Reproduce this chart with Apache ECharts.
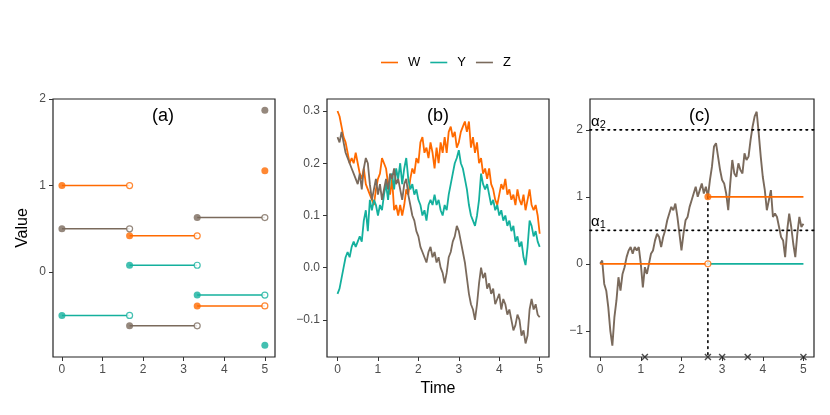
<!DOCTYPE html>
<html>
<head>
<meta charset="utf-8">
<script src="https://cdn.jsdelivr.net/npm/echarts@6/dist/echarts.min.js"></script>
<style>
  html, body { margin: 0; padding: 0; background: #fff; }
  #main { width: 830px; height: 415px; }
</style>
</head>
<body>
<div id="main"></div>
<script>
// panel (a): step values at the jump times
const stepTimes = [0, 1.667, 3.333, 5]
const aW = [1.0, 0.42, -0.39, 1.17]
const aY = [-0.5, 0.08, -0.265, -0.845]
const aZ = [0.5, -0.62, 0.63, 1.87]

// panel (b): paths sampled every 0.05 on [0, 5]
const bW = [0.30, 0.29, 0.27, 0.25, 0.24, 0.22, 0.20, 0.21, 0.20, 0.22,
  0.20, 0.18, 0.17, 0.19, 0.16, 0.15, 0.14, 0.13, 0.12, 0.15,
  0.17, 0.18, 0.21, 0.20, 0.19, 0.16, 0.14, 0.17, 0.11, 0.12,
  0.10, 0.12, 0.10, 0.12, 0.15, 0.14, 0.17, 0.19, 0.18, 0.21,
  0.20, 0.24, 0.25, 0.22, 0.23, 0.21, 0.24, 0.22, 0.19, 0.23,
  0.20, 0.24, 0.22, 0.25, 0.22, 0.26, 0.27, 0.25, 0.26, 0.23,
  0.24, 0.26, 0.27, 0.28, 0.26, 0.28, 0.23, 0.25, 0.22, 0.24,
  0.20, 0.21, 0.18, 0.19, 0.17, 0.19, 0.16, 0.15, 0.13, 0.12,
  0.14, 0.16, 0.15, 0.17, 0.14, 0.15, 0.13, 0.14, 0.12, 0.15,
  0.13, 0.12, 0.14, 0.11, 0.13, 0.15, 0.12, 0.11, 0.12, 0.10, 0.065]
const bY = [-0.05, -0.04, -0.02, 0.00, 0.02, 0.03, 0.02, 0.04, 0.05, 0.04,
  0.05, 0.06, 0.05, 0.09, 0.11, 0.07, 0.13, 0.11, 0.13, 0.12,
  0.10, 0.12, 0.11, 0.14, 0.16, 0.13, 0.17, 0.18, 0.15, 0.19,
  0.17, 0.20, 0.16, 0.19, 0.21, 0.17, 0.15, 0.16, 0.14, 0.15,
  0.13, 0.12, 0.10, 0.11, 0.09, 0.12, 0.13, 0.12, 0.14, 0.12,
  0.13, 0.11, 0.10, 0.12, 0.11, 0.14, 0.16, 0.18, 0.20, 0.21,
  0.225, 0.20, 0.19, 0.17, 0.15, 0.12, 0.10, 0.09, 0.08, 0.10,
  0.13, 0.18, 0.16, 0.15, 0.16, 0.14, 0.12, 0.13, 0.11, 0.12,
  0.10, 0.11, 0.09, 0.10, 0.08, 0.09, 0.07, 0.08, 0.05, 0.06,
  0.04, 0.05, 0.02, 0.005, 0.04, 0.09, 0.08, 0.06, 0.07, 0.05, 0.04]
const bZ = [0.25, 0.24, 0.26, 0.24, 0.22, 0.21, 0.20, 0.19, 0.18, 0.17,
  0.16, 0.18, 0.15, 0.19, 0.21, 0.20, 0.16, 0.13, 0.15, 0.17,
  0.14, 0.16, 0.13, 0.15, 0.17, 0.15, 0.18, 0.17, 0.19, 0.16,
  0.17, 0.15, 0.13, 0.16, 0.17, 0.14, 0.12, 0.10, 0.09, 0.07,
  0.06, 0.04, 0.03, 0.02, 0.01, 0.03, 0.04, 0.02, 0.03, 0.01,
  0.02, 0.00, -0.01, -0.03, -0.01, 0.02, 0.03, 0.05, 0.06, 0.08,
  0.07, 0.05, 0.03, 0.01, -0.02, -0.05, -0.07, -0.08, -0.10, -0.07,
  -0.03, 0.00, -0.02, -0.01, -0.04, -0.03, -0.05, -0.04, -0.07, -0.06,
  -0.05, -0.08, -0.06, -0.07, -0.09, -0.08, -0.10, -0.12, -0.11, -0.09,
  -0.10, -0.13, -0.12, -0.145, -0.13, -0.08, -0.06, -0.08, -0.07, -0.09, -0.095]

// panel (c): one path, thresholds, hitting time and the event times
const cZ = [0.0, 0.05, -0.3, -0.4, -0.65, -1.0, -1.22, -0.8, -0.55, -0.2,
  -0.4, -0.15, -0.05, 0.1, 0.2, 0.25, 0.15, 0.25, 0.2, 0.25,
  0.0, -0.35, -0.05, -0.15, 0.0, 0.15, 0.2, 0.35, 0.45, 0.4,
  0.25, 0.4, 0.5, 0.65, 0.75, 0.85, 0.8, 0.9, 0.7, 0.45,
  0.2, 0.45, 0.65, 0.7, 0.85, 0.95, 1.05, 1.15, 1.0, 1.1,
  1.2, 1.05, 1.15, 1.0, 1.25, 1.45, 1.75, 1.8, 1.6, 1.4,
  1.25, 1.2, 1.05, 0.8, 1.2, 1.55, 1.35, 1.3, 1.5, 1.4,
  1.35, 1.65, 1.55, 1.6, 1.85, 2.05, 2.2, 2.27, 1.95, 1.6,
  1.3, 1.1, 0.8, 0.95, 1.1, 0.7, 0.75, 0.7, 0.55, 0.4,
  0.35, 0.1, 0.5, 0.75, 0.55, 0.3, 0.1, 0.45, 0.7, 0.55, 0.6]
const alphas = [0.5, 2]
const hitTime = 2.65
const crossTimes = [1.1, 2.65, 3.0, 3.63, 5.0]

const times = bW.map((_, i) => +(i * 0.05).toFixed(2))
const cols = { W: "#ff6a00", Y: "#14b09d", Z: "#7a6a5c" }
const font = "Liberation Sans, Arial, Helvetica, sans-serif"
const xTicks = [0, 1, 2, 3, 4, 5]
const minus = v => (v < 0 ? "\u2212" + Math.abs(v) : "" + v)

function xAxis(idx, min, max, extra) {
  return Object.assign({
    type: "value", gridIndex: idx, min: min, max: max, position: "bottom",
    axisLine: { show: false, onZero: false },
    axisTick: { show: true, inside: false, length: 4, customValues: xTicks, lineStyle: { color: "#333", width: 1 } },
    axisLabel: { customValues: xTicks, color: "#4d4d4d", fontSize: 12, fontFamily: font, margin: 7 },
    splitLine: { show: false }
  }, extra || {})
}
function yAxis(idx, min, max, ticks, fmt, extra) {
  return Object.assign({
    type: "value", gridIndex: idx, min: min, max: max, position: "left",
    axisLine: { show: false, onZero: false },
    axisTick: { show: true, inside: false, length: 4, customValues: ticks, lineStyle: { color: "#333", width: 1 } },
    axisLabel: { customValues: ticks, formatter: fmt, color: "#4d4d4d", fontSize: 12, fontFamily: font, margin: 7 },
    splitLine: { show: false }
  }, extra || {})
}

const series = []
// panel (a) step functions
const steps = { W: aW, Y: aY, Z: aZ }
Object.keys(steps).forEach(k => {
  const v = steps[k]
  for (let i = 0; i < 3; i++) {
    series.push({
      name: k, type: "line", xAxisIndex: 0, yAxisIndex: 0, showSymbol: false,
      data: [[stepTimes[i], v[i]], [stepTimes[i + 1], v[i]]],
      lineStyle: { color: cols[k], width: 1.5 }, itemStyle: { color: cols[k] }, silent: true
    })
  }
  series.push({
    name: k, type: "scatter", xAxisIndex: 0, yAxisIndex: 0, symbolSize: 7,
    data: stepTimes.map((t, i) => [t, v[i]]),
    itemStyle: { color: cols[k] }, z: 3
  })
  series.push({
    name: k, type: "scatter", xAxisIndex: 0, yAxisIndex: 0, symbolSize: 6,
    data: stepTimes.slice(1).map((t, i) => [t, v[i]]),
    itemStyle: { color: "#fff", borderColor: cols[k], borderWidth: 1.2 }, z: 3
  })
})
// panel (b) paths
const paths = { W: bW, Y: bY, Z: bZ }
Object.keys(paths).forEach(k => {
  series.push({
    name: k, type: "line", xAxisIndex: 1, yAxisIndex: 1, showSymbol: false,
    data: times.map((t, i) => [t, paths[k][i]]),
    lineStyle: { color: cols[k], width: 1.8 }, itemStyle: { color: cols[k] }
  })
})
// panel (c)
series.push({
  name: "Z", type: "line", xAxisIndex: 2, yAxisIndex: 2, showSymbol: false,
  data: times.map((t, i) => [t, cZ[i]]),
  lineStyle: { color: cols.Z, width: 1.9 }, itemStyle: { color: cols.Z }
})
const cMin = -1.39, cMax = 2.46, cxMin = -0.25, cxMax = 5.26
alphas.forEach(a => {
  series.push({
    name: "alpha", type: "line", xAxisIndex: 2, yAxisIndex: 2, showSymbol: false,
    data: [[cxMin, a], [cxMax, a]],
    lineStyle: { color: "#000", width: 1.6, type: [1.6, 4.4], cap: "round" }, z: 4
  })
})
series.push({
  name: "hit", type: "line", xAxisIndex: 2, yAxisIndex: 2, showSymbol: false,
  data: [[hitTime, 1], [hitTime, cMin]],
  lineStyle: { color: "#000", width: 1.6, type: [1.6, 4.4], cap: "round" }, z: 4
})
series.push({
  name: "W", type: "line", xAxisIndex: 2, yAxisIndex: 2, showSymbol: false,
  data: [[0, 0], [hitTime, 0]], lineStyle: { color: cols.W, width: 1.6 }, itemStyle: { color: cols.W }, z: 5
})
series.push({
  name: "W", type: "line", xAxisIndex: 2, yAxisIndex: 2, showSymbol: false,
  data: [[hitTime, 1], [5, 1]], lineStyle: { color: cols.W, width: 1.6 }, itemStyle: { color: cols.W }, z: 5
})
series.push({
  name: "Y", type: "line", xAxisIndex: 2, yAxisIndex: 2, showSymbol: false,
  data: [[hitTime, 0], [5, 0]], lineStyle: { color: cols.Y, width: 1.6 }, itemStyle: { color: cols.Y }, z: 5
})
series.push({
  name: "W", type: "scatter", xAxisIndex: 2, yAxisIndex: 2, symbolSize: 7,
  data: [[hitTime, 1]], itemStyle: { color: cols.W }, z: 6
})
series.push({
  name: "W", type: "scatter", xAxisIndex: 2, yAxisIndex: 2, symbolSize: 6,
  data: [[hitTime, 0]], itemStyle: { color: "#fff", borderColor: cols.W, borderWidth: 1.2 }, z: 6
})
series.push({
  name: "events", type: "scatter", xAxisIndex: 2, yAxisIndex: 2, symbolSize: 6, clip: false,
  symbol: "path://M0,0L10,10M10,0L0,10",
  data: crossTimes.map(t => [t, cMin]),
  itemStyle: { color: "none", borderColor: "#222", borderWidth: 1.4 }, z: 7
})

const chart = echarts.init(document.getElementById("main"))
chart.setOption({
  animation: false,
  backgroundColor: "#fff",
  textStyle: { fontFamily: font },
  legend: {
    data: ["W", "Y", "Z"], left: 376, top: 51, icon: "rect", itemWidth: 17, itemHeight: 1.6,
    itemGap: 10, textStyle: { fontSize: 13, color: "#000", fontFamily: font, padding: [0, 0, 0, 5] }
  },
  grid: [
    { left: 53, top: 99, width: 222, height: 258, show: true, borderColor: "#222", borderWidth: 1.2, backgroundColor: "#fff" },
    { left: 327, top: 99, width: 222, height: 258, show: true, borderColor: "#222", borderWidth: 1.2, backgroundColor: "#fff" },
    { left: 590, top: 99, width: 224, height: 258, show: true, borderColor: "#222", borderWidth: 1.2, backgroundColor: "#fff" }
  ],
  xAxis: [
    xAxis(0, -0.22, 5.25),
    xAxis(1, -0.26, 5.23, {
      name: "Time", nameLocation: "middle", nameGap: 24,
      nameTextStyle: { fontSize: 16, color: "#000", fontFamily: font }
    }),
    xAxis(2, cxMin, cxMax)
  ],
  yAxis: [
    yAxis(0, -0.98, 2.0, [0, 1, 2], minus, {
      name: "Value", nameLocation: "middle", nameGap: 22,
      nameTextStyle: { fontSize: 16, color: "#000", fontFamily: font }
    }),
    yAxis(1, -0.171, 0.323, [-0.1, 0, 0.1, 0.2, 0.3], v => (v < 0 ? "\u2212" : "") + Math.abs(v).toFixed(1)),
    yAxis(2, cMin, cMax, [-1, 0, 1, 2], minus)
  ],
  graphic: [
    { type: "text", left: 152, top: 107, z: 10, style: { text: "(a)", fontSize: 18, fill: "#000", fontFamily: font } },
    { type: "text", left: 427, top: 107, z: 10, style: { text: "(b)", fontSize: 18, fill: "#000", fontFamily: font } },
    { type: "text", left: 689, top: 107, z: 10, style: { text: "(c)", fontSize: 18, fill: "#000", fontFamily: font } },
    { type: "text", left: 591, top: 114, z: 10, style: { text: "{a|\u03b1}{s|2}", rich: { a: { fontSize: 15, fill: "#000", fontFamily: font }, s: { fontSize: 11, fill: "#000", fontFamily: font, padding: [6, 0, 0, 0] } } } },
    { type: "text", left: 591, top: 214, z: 10, style: { text: "{a|\u03b1}{s|1}", rich: { a: { fontSize: 15, fill: "#000", fontFamily: font }, s: { fontSize: 11, fill: "#000", fontFamily: font, padding: [6, 0, 0, 0] } } } }
  ],
  series: series
})
</script>
</body>
</html>
